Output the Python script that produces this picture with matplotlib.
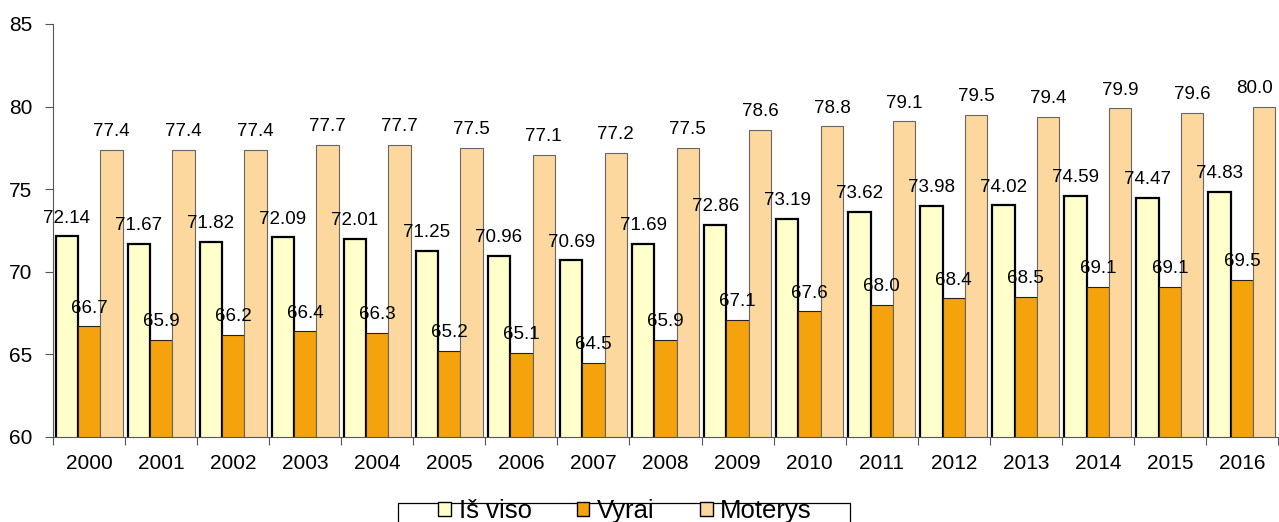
import matplotlib
matplotlib.use("Agg")
import matplotlib.pyplot as plt
from matplotlib.patches import Rectangle
import numpy as np

plt.rcParams['font.family'] = ['Liberation Sans', 'DejaVu Sans']

years = ["2000", "2001", "2002", "2003", "2004", "2005", "2006", "2007", "2008",
         "2009", "2010", "2011", "2012", "2013", "2014", "2015", "2016"]
is_viso = [72.14, 71.67, 71.82, 72.09, 72.01, 71.25, 70.96, 70.69, 71.69,
           72.86, 73.19, 73.62, 73.98, 74.02, 74.59, 74.47, 74.83]
vyrai = [66.7, 65.9, 66.2, 66.4, 66.3, 65.2, 65.1, 64.5, 65.9,
         67.1, 67.6, 68.0, 68.4, 68.5, 69.1, 69.1, 69.5]
moterys = [77.4, 77.4, 77.4, 77.7, 77.7, 77.5, 77.1, 77.2, 77.5,
           78.6, 78.8, 79.1, 79.5, 79.4, 79.9, 79.6, 80.0]
series_names = ["Iš viso", "Vyrai", "Moterys"]

W, H = 1279, 522
fig = plt.figure(figsize=(W / 100, H / 100), dpi=100)
ax = fig.add_axes([53 / W, 1 - 437 / H, 1225 / W, (437 - 24) / H])

x = np.arange(len(years))
bw = 0.31
colors = ["#FFFFCC", "#F5A30C", "#FCD89E"]
edges = ["#000000", "#222222", "#666666"]
lws = [1.6, 0.8, 0.8]
fmts = ["{:.2f}", "{:.1f}", "{:.1f}"]
data = [is_viso, vyrai, moterys]

n = len(years)
for k, (vals, name) in enumerate(zip(data, series_names)):
    xs = x + (k - 1) * bw
    ax.bar(xs, vals, width=bw, bottom=0, color=colors[k],
           edgecolor=edges[k], linewidth=lws[k], label=name, zorder=2)
    for i, (xi, v) in enumerate(zip(xs, vals)):
        if k == 2 and i == n - 1:
            ha, dx = "right", 6.5
        else:
            ha, dx = "center", 0
        ax.annotate(fmts[k].format(v), (xi, v), xytext=(dx, 7),
                    textcoords="offset points", ha=ha, va="bottom",
                    fontsize=13.5, color="#000000", zorder=3,
                    annotation_clip=False)

ax.set_ylim(60, 85)
ax.set_xlim(-0.5, n - 0.5)
ax.set_yticks([60, 65, 70, 75, 80, 85])
ax.tick_params(axis='y', labelsize=15, length=6, width=0.8, pad=9, color="#555555")
ax.set_xticks(x)
ax.set_xticklabels(years)
ax.tick_params(axis='x', which='major', labelsize=15, length=0, pad=12)
ax.set_xticks(np.arange(n + 1) - 0.5, minor=True)
ax.tick_params(axis='x', which='minor', length=6, width=0.8, color="#555555")

for s in ["top", "right"]:
    ax.spines[s].set_visible(False)
for s in ["left", "bottom"]:
    ax.spines[s].set_color("#555555")
    ax.spines[s].set_linewidth(0.8)

# legend box (drawn as a frame wider than the entries, like the original)
fig.patches.append(Rectangle((398 / W, -0.05), (850 - 398) / W, 0.05 + 1 - 503 / H,
                             transform=fig.transFigure, facecolor="white",
                             edgecolor="black", linewidth=0.9, zorder=1))
handles, labels = ax.get_legend_handles_labels()
leg = fig.legend(handles, labels, loc="center",
                 bbox_to_anchor=(625 / W, 1 - 511 / H), ncol=3,
                 fontsize=18.5, frameon=False,
                 handlelength=0.5, handleheight=0.5, handletextpad=0.3,
                 columnspacing=1.75, borderpad=0, borderaxespad=0)
leg.set_zorder(5)
for h in leg.legend_handles:
    h.set_edgecolor("#000000")
    h.set_linewidth(1.0)

fig.savefig("out.png", dpi=100)
